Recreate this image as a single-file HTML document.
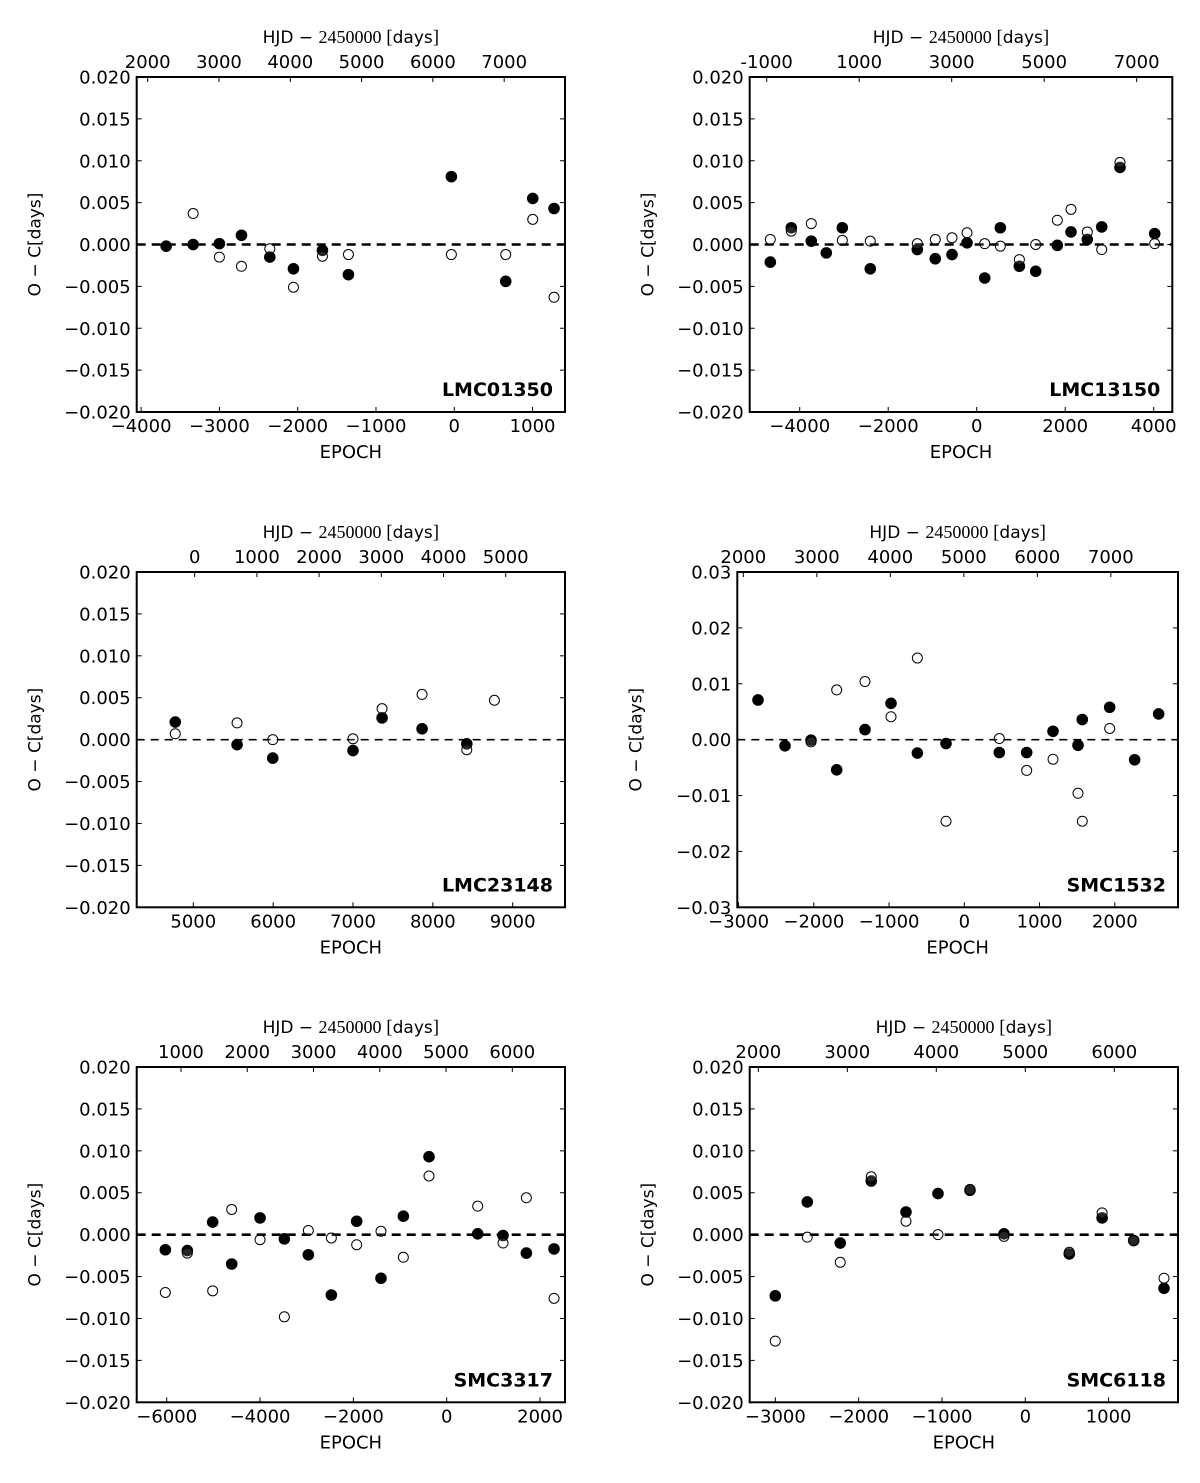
<!DOCTYPE html>
<html><head><meta charset="utf-8"><style>
html,body{margin:0;padding:0;background:#fff;}
svg{display:block;font-family:"DejaVu Sans","Liberation Sans",sans-serif;}
</style></head><body>
<svg id="fig" width="1200" height="1483" viewBox="0 0 1200 1483" xmlns="http://www.w3.org/2000/svg"></svg>
<script>
// ---- data (epoch, O-C) ----
const lmc01350EpochFilled = [-3680,-3335,-3000,-2718,-2356,-2054,-1684,-1352,-37,657,1002,1274];
const lmc01350Filled = [-0.0002,0.0000,0.0001,0.0011,-0.0015,-0.0029,-0.0007,-0.0036,0.0081,-0.0044,0.0055,0.0043];
const lmc01350EpochOpen = [-3335,-3000,-2718,-2356,-2054,-1684,-1352,-37,657,1002,1274];
const lmc01350Open = [0.0037,-0.0015,-0.0026,-0.0005,-0.0051,-0.0014,-0.0012,-0.0012,-0.0012,0.0030,-0.0063];

const lmc13150EpochFilled = [-4664,-4190,-3738,-3399,-3037,-2405,-1342,-936,-558,-219,181,534,964,1333,1822,2131,2499,2825,3238,4022];
const lmc13150Filled = [-0.0021,0.0020,0.0004,-0.0010,0.0020,-0.0029,-0.0006,-0.0017,-0.0012,0.0002,-0.0040,0.0020,-0.0026,-0.0032,-0.0001,0.0015,0.0006,0.0021,0.0092,0.0013];
const lmc13150EpochOpen = [-4664,-4190,-3738,-3037,-2405,-1342,-936,-558,-219,181,534,964,1333,1822,2131,2499,2825,3238,4022];
const lmc13150Open = [0.0006,0.0016,0.0025,0.0005,0.0004,0.0001,0.0006,0.0008,0.0014,0.0001,-0.0002,-0.0018,0.0000,0.0029,0.0042,0.0015,-0.0006,0.0098,0.0001];

const lmc23148EpochFilled = [4774,5548,5995,7000,7364,7865,8425];
const lmc23148Filled = [0.0021,-0.0006,-0.0022,-0.0013,0.0026,0.0013,-0.0005];
const lmc23148EpochOpen = [4774,5548,5995,7000,7364,7865,8425,8771];
const lmc23148Open = [0.0007,0.0020,0.0000,0.0001,0.0037,0.0054,-0.0012,0.0047];

const smc1532EpochFilled = [-2742,-2383,-2037,-1696,-1320,-974,-624,-243,465,829,1179,1511,1568,1932,2264,2583];
const smc1532Filled = [0.0071,-0.0011,-0.0001,-0.0054,0.0018,0.0065,-0.0024,-0.0007,-0.0023,-0.0023,0.0015,-0.0010,0.0036,0.0058,-0.0036,0.0046];
const smc1532EpochOpen = [-2037,-1696,-1320,-974,-624,-243,465,829,1179,1511,1568,1932];
const smc1532Open = [-0.0004,0.0089,0.0104,0.0041,0.0146,-0.0146,0.0002,-0.0055,-0.0035,-0.0096,-0.0146,0.0020];

const smc3317EpochFilled = [-6029,-5558,-5015,-4607,-4000,-3479,-2965,-2472,-1929,-1408,-929,-379,664,1207,1707,2300];
const smc3317Filled = [-0.0018,-0.0019,0.0015,-0.0035,0.0020,-0.0005,-0.0024,-0.0072,0.0016,-0.0052,0.0022,0.0093,0.0001,-0.0001,-0.0022,-0.0017];
const smc3317EpochOpen = [-6029,-5558,-5015,-4607,-4000,-3479,-2965,-2472,-1929,-1408,-929,-379,664,1207,1707,2300];
const smc3317Open = [-0.0069,-0.0022,-0.0067,0.0030,-0.0006,-0.0098,0.0005,-0.0004,-0.0012,0.0004,-0.0027,0.0070,0.0034,-0.0010,0.0044,-0.0076];

const smc6118EpochFilled = [-3001,-2617,-2221,-1849,-1432,-1048,-664,-256,528,922,1301,1665];
const smc6118Filled = [-0.0073,0.0039,-0.0010,0.0064,0.0027,0.0049,0.0053,0.0001,-0.0023,0.0020,-0.0007,-0.0064];
const smc6118EpochOpen = [-3001,-2617,-2221,-1849,-1432,-1048,-664,-256,528,922,1301,1665];
const smc6118Open = [-0.0127,-0.0003,-0.0033,0.0069,0.0016,0.0000,0.0054,-0.0002,-0.0021,0.0026,-0.0007,-0.0052];

// tick label arrays
const yTicksSmall = [-0.020,-0.015,-0.010,-0.005,0.000,0.005,0.010,0.015,0.020];
const yTicksLarge = [-0.03,-0.02,-0.01,0.00,0.01,0.02,0.03];
const lmc01350XTicks = [-4000,-3000,-2000,-1000,0,1000];
const lmc01350TopTicks = [2000,3000,4000,5000,6000,7000];
const lmc13150XTicks = [-4000,-2000,0,2000,4000];
const lmc13150TopTicks = [-1000,1000,3000,5000,7000];
const lmc23148XTicks = [5000,6000,7000,8000,9000];
const lmc23148TopTicks = [0,1000,2000,3000,4000,5000];
const smc1532XTicks = [-3000,-2000,-1000,0,1000,2000];
const smc1532TopTicks = [2000,3000,4000,5000,6000,7000];
const smc3317XTicks = [-6000,-4000,-2000,0,2000];
const smc3317TopTicks = [1000,2000,3000,4000,5000,6000];
const smc6118XTicks = [-3000,-2000,-1000,0,1000];
const smc6118TopTicks = [2000,3000,4000,5000,6000];

const NS = "http://www.w3.org/2000/svg";
const fig = document.getElementById('fig');
function el(tag, attrs, parent, text){
  const e = document.createElementNS(NS, tag);
  for (const k in attrs) e.setAttribute(k, attrs[k]);
  if (text !== undefined) e.textContent = text;
  parent.appendChild(e);
  return e;
}
function fmt(v, dec){
  const s = Math.abs(v).toFixed(dec);
  return (v < -1e-12 ? '\u2212' : '') + s;
}

const panels = [
  {id:'lmc01350', name:'LMC01350', L:136.7, R:565, T:77, B:412, xd:[-4056,1414], hd:[1846,7853], yd:[-0.02,0.02],
   yt:yTicksSmall, dec:3, xt:lmc01350XTicks, ht:lmc01350TopTicks, ef:lmc01350EpochFilled, vf:lmc01350Filled, eo:lmc01350EpochOpen, vo:lmc01350Open, thick:true},
  {id:'lmc13150', name:'LMC13150', L:749.7, R:1172.3, T:77, B:412, xd:[-5130,4420], hd:[-1368,7771], yd:[-0.02,0.02],
   yt:yTicksSmall, dec:3, xt:lmc13150XTicks, ht:lmc13150TopTicks, ef:lmc13150EpochFilled, vf:lmc13150Filled, eo:lmc13150EpochOpen, vo:lmc13150Open, thick:true},
  {id:'lmc23148', name:'LMC23148', L:136.7, R:565, T:572, B:907.3, xd:[4291,9655], hd:[-932,5953], yd:[-0.02,0.02],
   yt:yTicksSmall, dec:3, xt:lmc23148XTicks, ht:lmc23148TopTicks, ef:lmc23148EpochFilled, vf:lmc23148Filled, eo:lmc23148EpochOpen, vo:lmc23148Open, thick:false},
  {id:'smc1532', name:'SMC1532', L:737.3, R:1178, T:572, B:907.3, xd:[-3017,2840], hd:[1918,7914], yd:[-0.03,0.03],
   yt:yTicksLarge, dec:2, xt:smc1532XTicks, ht:smc1532TopTicks, ef:smc1532EpochFilled, vf:smc1532Filled, eo:smc1532EpochOpen, vo:smc1532Open, thick:false},
  {id:'smc3317', name:'SMC3317', L:136.7, R:565, T:1067, B:1402.3, xd:[-6643,2535], hd:[332,6795], yd:[-0.02,0.02],
   yt:yTicksSmall, dec:3, xt:smc3317XTicks, ht:smc3317TopTicks, ef:smc3317EpochFilled, vf:smc3317Filled, eo:smc3317EpochOpen, vo:smc3317Open, thick:true},
  {id:'smc6118', name:'SMC6118', L:749.7, R:1178, T:1067, B:1402.3, xd:[-3308,1833], hd:[1903,6716], yd:[-0.02,0.02],
   yt:yTicksSmall, dec:3, xt:smc6118XTicks, ht:smc6118TopTicks, ef:smc6118EpochFilled, vf:smc6118Filled, eo:smc6118EpochOpen, vo:smc6118Open, thick:true}
];

panels.forEach(p => {
  const g = el('g', {}, fig);
  
  
  const sx = v => p.L + (v - p.xd[0]) / (p.xd[1] - p.xd[0]) * (p.R - p.L);
  const sh = v => p.L + (v - p.hd[0]) / (p.hd[1] - p.hd[0]) * (p.R - p.L);
  const sy = v => p.B - (v - p.yd[0]) / (p.yd[1] - p.yd[0]) * (p.B - p.T);
  const cx = (p.L + p.R) / 2;

  const zl = el('line', {x1:p.L, x2:p.R, y1:sy(0), y2:sy(0), stroke:'#000',
    'stroke-width': p.thick ? 2.6 : 1.6, 'stroke-dasharray': p.thick ? '9,6' : '8,6'}, g);
  
  

  p.yt.forEach(v => {
    const y = sy(v);
    el('line', {x1:p.L, x2:p.L+5, y1:y, y2:y, stroke:'#000', 'stroke-width':1}, g);
    el('line', {x1:p.R-5, x2:p.R, y1:y, y2:y, stroke:'#000', 'stroke-width':1}, g);
    const t = el('text', {x:p.L-6, y:y+6.5, 'font-size':18, 'text-anchor':'end'}, g, fmt(v, p.dec));
    
    
  });
  p.xt.forEach(v => {
    const x = sx(v);
    el('line', {x1:x, x2:x, y1:p.B, y2:p.B-5, stroke:'#000', 'stroke-width':1}, g);
    const t = el('text', {x:x, y:p.B+20, 'font-size':18, 'text-anchor':'middle'}, g, fmt(v, 0));
    
    
  });
  p.ht.forEach(v => {
    const x = sh(v);
    el('line', {x1:x, x2:x, y1:p.T, y2:p.T+5, stroke:'#000', 'stroke-width':1}, g);
    const t = el('text', {x:x, y:p.T-9, 'font-size':18, 'text-anchor':'middle'}, g, fmt(v, 0).replace('\u2212','-'));
    
    
  });

  p.ef.forEach((e, i) => {
    const c = el('circle', {cx:sx(e), cy:sy(p.vf[i]), r:5.3, fill:'#000', stroke:'#000', 'stroke-width':1}, g);
    
    
  });
  p.eo.forEach((e, i) => {
    const c = el('circle', {cx:sx(e), cy:sy(p.vo[i]), r:5, fill:'#fff', 'fill-opacity':0.15, stroke:'#000', 'stroke-width':1}, g);
    
    
  });

  const fr = el('rect', {x:p.L, y:p.T, width:p.R-p.L, height:p.B-p.T, fill:'none', stroke:'#000', 'stroke-width':2}, g);
  
  

  const nm = el('text', {x:p.R-12, y:p.B-16, 'font-size':19, 'font-weight':'bold', 'text-anchor':'end'}, g, p.name);
  
  

  const xt = el('text', {x:cx, y:p.B+46, 'font-size':18, 'text-anchor':'middle'}, g, 'EPOCH');
  
  

  const tt = el('text', {x:cx, y:p.T-34, 'font-size':17, 'text-anchor':'middle'}, g);
  
  
  el('tspan', {}, tt, 'HJD \u2212 ');
  el('tspan', {'font-family':'"Liberation Serif","DejaVu Serif",serif', 'font-size':18}, tt, '2450000');
  el('tspan', {'font-family':'"Liberation Serif","DejaVu Serif",serif', 'font-size':19}, tt, ' [');
  el('tspan', {}, tt, 'days');
  el('tspan', {'font-family':'"Liberation Serif","DejaVu Serif",serif', 'font-size':19}, tt, ']');

  const yx = p.L - 96, yy = (p.T + p.B) / 2;
  const yl = el('text', {x:yx, y:yy, 'font-size':17, 'text-anchor':'middle', transform:'rotate(-90 '+yx+' '+yy+')'}, g, 'O \u2212 C[days]');
  
  
});
</script>
</body></html>
